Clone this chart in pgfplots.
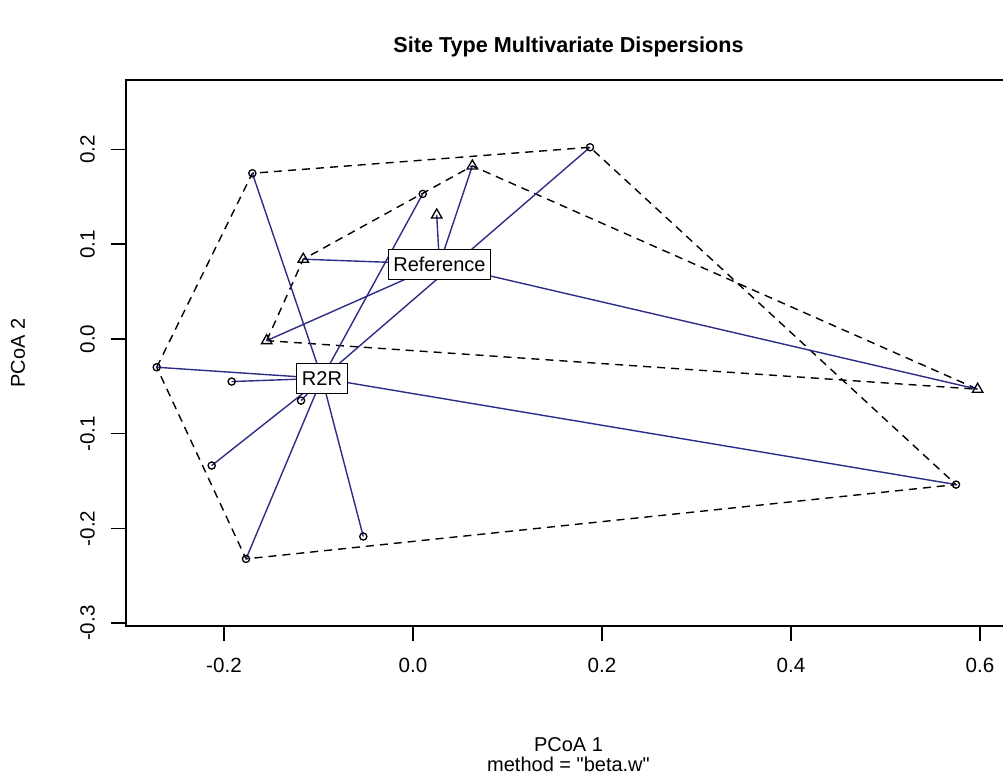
\documentclass[border=0pt]{standalone}
\usepackage{fontspec}
\setmainfont{Liberation Sans}
\newfontfamily\plainfont{Liberation Sans}
\usepackage{pgfplots}
\usepackage{pgfplotstable}
\pgfplotsset{compat=1.18}
\definecolor{segblue}{RGB}{45,45,135}

% R2R group (circles)
\pgfplotstableread{
x y
-0.2712 -0.0299
-0.1919 -0.0450
-0.1185 -0.0651
-0.2130 -0.1336
-0.1767 -0.2321
-0.0526 -0.2085
-0.1700 0.1748
0.0103 0.1530
0.1873 0.2022
0.5746 -0.1537
}\rtwor
% Reference group (triangles)
\pgfplotstableread{
x y
-0.1161 0.0841
-0.1548 -0.0018
0.0251 0.1308
0.0628 0.1825
0.5975 -0.0531
}\refer

\begin{document}
\begin{tikzpicture}
\begin{axis}[
  name=ax, scale only axis, width=442.5pt, height=273pt,
  xmin=-0.3037, xmax=0.6328, ymin=-0.3029, ymax=0.2732,
  xtick={-0.2,0,0.2,0.4,0.6}, ytick={-0.3,-0.2,-0.1,0,0.1,0.2},
  xticklabels={-0.2,0.0,0.2,0.4,0.6}, yticklabels={-0.3,-0.2,-0.1,0.0,0.1,0.2},
  xtick pos=left, ytick pos=left, tick align=outside, major tick length=7.5pt,
  axis line style={line width=0.8pt},
  every tick/.style={black,line width=0.8pt},
  tick label style={font=\fontsize{10.3}{12}\selectfont},
  xticklabel style={yshift=-5pt},
  yticklabel style={xshift=-4.5pt, rotate=90, anchor=south},
  clip=false,
]
% convex hulls
\addplot[black, line width=0.7pt, dash pattern=on 4pt off 3pt] coordinates {(-0.2712,-0.0299) (-0.1700,0.1748) (0.1873,0.2022) (0.5746,-0.1537) (-0.1767,-0.2321) (-0.2712,-0.0299)};
\addplot[black, line width=0.7pt, dash pattern=on 4pt off 3pt] coordinates {(-0.1548,-0.0018) (-0.1161,0.0841) (0.0628,0.1825) (0.5975,-0.0531) (-0.1548,-0.0018)};
% segments to centroids: R2R centroid (-0.0963,-0.0416)
\addplot[segblue, line width=0.7pt] coordinates {(-0.0963,-0.0416) (-0.2712,-0.0299)};
\addplot[segblue, line width=0.7pt] coordinates {(-0.0963,-0.0416) (-0.1919,-0.0450)};
\addplot[segblue, line width=0.7pt] coordinates {(-0.0963,-0.0416) (-0.1185,-0.0651)};
\addplot[segblue, line width=0.7pt] coordinates {(-0.0963,-0.0416) (-0.2130,-0.1336)};
\addplot[segblue, line width=0.7pt] coordinates {(-0.0963,-0.0416) (-0.1767,-0.2321)};
\addplot[segblue, line width=0.7pt] coordinates {(-0.0963,-0.0416) (-0.0526,-0.2085)};
\addplot[segblue, line width=0.7pt] coordinates {(-0.0963,-0.0416) (-0.1700,0.1748)};
\addplot[segblue, line width=0.7pt] coordinates {(-0.0963,-0.0416) (0.0103,0.1530)};
\addplot[segblue, line width=0.7pt] coordinates {(-0.0963,-0.0416) (0.1873,0.2022)};
\addplot[segblue, line width=0.7pt] coordinates {(-0.0963,-0.0416) (0.5746,-0.1537)};
% Reference centroid (0.0280,0.0789)
\addplot[segblue, line width=0.7pt] coordinates {(0.0280,0.0789) (-0.1161,0.0841)};
\addplot[segblue, line width=0.7pt] coordinates {(0.0280,0.0789) (-0.1548,-0.0018)};
\addplot[segblue, line width=0.7pt] coordinates {(0.0280,0.0789) (0.0251,0.1308)};
\addplot[segblue, line width=0.7pt] coordinates {(0.0280,0.0789) (0.0628,0.1825)};
\addplot[segblue, line width=0.7pt] coordinates {(0.0280,0.0789) (0.5975,-0.0531)};
% points
\addplot[only marks, mark=o, mark size=1.8pt, mark options={black, line width=0.65pt}] table {\rtwor};
\addplot[only marks, mark=triangle, mark size=3pt, mark options={black, line width=0.65pt}] table {\refer};
% centroid labels
\node[draw, fill=white, line width=0.6pt, font=\fontsize{10}{12}\selectfont, inner xsep=2.6pt, inner ysep=0pt, minimum height=15pt] at (axis cs:0.0280,0.0789) {Reference};
\node[draw, fill=white, line width=0.6pt, font=\fontsize{10}{12}\selectfont, inner xsep=2.6pt, inner ysep=0pt, minimum height=15pt] at (axis cs:-0.0963,-0.0416) {R2R};
\end{axis}
\begin{scope}[shift={(ax.south west)}]
  \node[anchor=base, font=\bfseries\fontsize{10.8}{13}\selectfont] at (221.25pt,286.5pt) {Site Type Multivariate Dispersions};
  \node[anchor=base, font=\fontsize{10}{12}\selectfont] at (221.25pt,-63pt) {PCoA 1};
  \node[anchor=base, font=\fontsize{10}{12}\plainfont] at (221.25pt,-73pt) {method = "beta.w"};
  \node[rotate=90, font=\fontsize{10}{12}\selectfont] at (-54pt,136.5pt) {PCoA 2};
\end{scope}
\pgfresetboundingbox
\path[use as bounding box] ([shift={(-63pt,-74.5pt)}]ax.south west) rectangle ([shift={(438.5pt,313pt)}]ax.south west);
\end{tikzpicture}
\end{document}
